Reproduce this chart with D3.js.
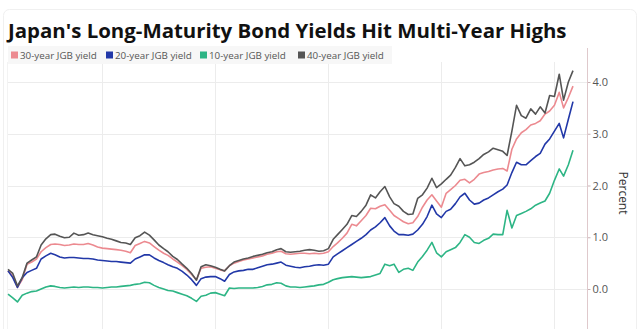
<!DOCTYPE html>
<html>
<head>
<meta charset="utf-8">
<script src="https://cdn.jsdelivr.net/npm/d3@7"></script>
<style>
  body { margin: 0; background: #fff; }
  svg { display: block; font-family: "Open Sans", sans-serif; }
</style>
</head>
<body>
<div id="chart"></div>
<script>
const width = 640, height = 329;

// monthly observations, May 2016 .. May 2026
const months = d3.timeMonth.range(new Date(2016, 4, 1), new Date(2026, 5, 1));

const yield30 = [
  .35,.25,.03,.18,.48,.52,.58,.72,.80,.86,
  .87,.86,.84,.85,.87,.86,.86,.88,.85,.81,
  .79,.78,.77,.76,.75,.73,.70,.84,.88,.92,
  .89,.82,.75,.69,.65,.58,.52,.45,.38,.28,
  .18,.40,.42,.43,.40,.37,.35,.45,.50,.53,
  .56,.58,.60,.62,.64,.67,.69,.72,.73,.68,
  .67,.68,.69,.69,.68,.69,.68,.69,.72,.82,
  .89,.98,1.08,1.25,1.22,1.32,1.42,1.56,1.55,1.60,
  1.63,1.52,1.42,1.36,1.30,1.26,1.28,1.40,1.58,1.72,
  1.82,1.70,1.58,1.85,1.92,2.00,2.10,2.12,2.05,2.12,
  2.22,2.25,2.27,2.30,2.32,2.33,2.28,2.70,2.90,3.02,
  3.08,3.17,3.20,3.25,3.38,3.44,3.55,3.80,3.50,3.70,
  3.92
];

const yield20 = [
  .35,.22,.03,.22,.32,.36,.40,.58,.64,.69,
  .66,.62,.60,.61,.61,.60,.59,.59,.58,.56,
  .55,.54,.53,.53,.52,.51,.50,.58,.62,.66,
  .66,.60,.55,.51,.47,.43,.40,.34,.27,.18,
  .07,.20,.23,.24,.24,.20,.15,.28,.33,.35,
  .36,.38,.38,.41,.44,.47,.48,.50,.52,.46,
  .44,.42,.41,.43,.44,.46,.47,.46,.48,.62,
  .68,.74,.80,.86,.92,.98,1.05,1.14,1.20,1.28,
  1.38,1.22,1.12,1.05,1.05,1.04,1.06,1.14,1.25,1.40,
  1.62,1.45,1.38,1.50,1.54,1.65,1.78,1.85,1.72,1.64,
  1.66,1.72,1.76,1.82,1.88,1.93,2.01,2.25,2.45,2.40,
  2.40,2.48,2.56,2.62,2.80,2.90,3.05,3.20,2.92,3.28,
  3.62
];

const yield10 = [
  -.10,-.17,-.25,-.12,-.08,-.05,-.04,.00,.04,.06,
  .05,.03,.02,.03,.04,.03,.04,.04,.03,.03,
  .02,.03,.04,.04,.05,.06,.07,.09,.10,.13,
  .12,.07,.03,.00,-.03,-.04,-.07,-.10,-.13,-.18,
  -.24,-.14,-.12,-.08,-.07,-.10,-.13,.02,.01,.02,
  .02,.02,.02,.03,.05,.08,.09,.12,.11,.06,
  .04,.04,.03,.04,.05,.06,.08,.09,.13,.18,
  .20,.22,.23,.24,.23,.22,.23,.24,.27,.30,
  .48,.45,.48,.32,.38,.40,.36,.52,.63,.75,
  .90,.70,.62,.72,.76,.80,.90,1.05,1.00,.90,
  .88,.94,.98,1.06,1.05,1.05,1.52,1.18,1.42,1.46,
  1.50,1.55,1.62,1.66,1.70,1.85,2.10,2.32,2.18,2.40,
  2.68
];

const yield40 = [
  .38,.30,.06,.22,.50,.56,.62,.85,.97,1.05,
  1.06,1.02,.99,1.00,1.08,1.04,1.05,1.08,1.05,1.03,
  1.01,.98,.96,.93,.90,.89,.86,.99,1.03,1.10,
  1.04,.95,.85,.78,.72,.63,.57,.48,.40,.30,
  .17,.43,.47,.45,.42,.38,.35,.45,.52,.55,
  .58,.60,.63,.65,.67,.70,.72,.76,.78,.72,
  .71,.72,.73,.75,.76,.75,.73,.74,.78,.96,
  1.05,1.15,1.25,1.42,1.40,1.50,1.62,1.82,1.76,1.88,
  1.98,1.78,1.65,1.60,1.50,1.44,1.45,1.75,1.82,1.95,
  2.14,1.96,2.03,2.12,2.20,2.35,2.52,2.38,2.40,2.45,
  2.52,2.60,2.65,2.72,2.69,2.66,2.58,3.05,3.55,3.35,
  3.30,3.48,3.38,3.52,3.40,3.74,3.72,4.15,3.65,4.00,
  4.22
];

const seriesNames = ["30-year JGB yield", "20-year JGB yield", "10-year JGB yield", "40-year JGB yield"];
const seriesValues = [yield30, yield20, yield10, yield40];
const seriesColors = ["#ec8a90", "#2238a8", "#2db585", "#555555"];
const yTicks = [0, 1, 2, 3, 4];

const svg = d3.select("#chart").append("svg")
  .attr("width", width)
  .attr("height", height);

// faint card edge
svg.append("rect")
  .attr("x", 3.5).attr("y", 9.5)
  .attr("width", 633).attr("height", 340)
  .attr("rx", 6)
  .attr("fill", "none")
  .attr("stroke", "#f0f0f0");

const plotTop = 62, plotBottom = 335, axisX = 587;

const x = d3.scaleTime()
  .domain([months[0], months[months.length - 1]])
  .range([8, 573]);

const y = d3.scaleLinear()
  .domain([0, 4])
  .range([289, 82]);

// grid
svg.append("g").selectAll("line")
  .data(yTicks)
  .enter().append("line")
  .attr("x1", 8).attr("x2", axisX)
  .attr("y1", d => Math.round(y(d)) + 0.5)
  .attr("y2", d => Math.round(y(d)) + 0.5)
  .attr("stroke", "#ececec");

svg.append("g").selectAll("line")
  .data(x.ticks(d3.timeYear.every(2)).filter(d => d.getFullYear() % 2 === 0))
  .enter().append("line")
  .attr("x1", d => Math.round(x(d)) + 0.5)
  .attr("x2", d => Math.round(x(d)) + 0.5)
  .attr("y1", plotTop).attr("y2", plotBottom)
  .attr("stroke", "#ececec");

svg.append("line")
  .attr("x1", 7.5).attr("x2", 7.5)
  .attr("y1", plotTop).attr("y2", plotBottom)
  .attr("stroke", "#f3f3f3");

// lines
const line = d3.line()
  .x((d, i) => x(months[i]))
  .y(d => y(d));

svg.append("g").selectAll("path")
  .data(seriesValues)
  .enter().append("path")
  .attr("d", line)
  .attr("fill", "none")
  .attr("stroke", (d, i) => seriesColors[i])
  .attr("stroke-width", 1.6)
  .attr("stroke-linejoin", "round");

// right axis
const axis = svg.append("g")
  .attr("transform", `translate(${axisX + 0.5},0)`)
  .call(d3.axisRight(y).tickValues(yTicks).tickFormat(d3.format(".1f")).tickSize(3).tickPadding(2));

axis.select(".domain").remove();
axis.append("line")
  .attr("y1", 48).attr("y2", height)
  .attr("stroke", "#dfc9cc");
axis.selectAll(".tick line").attr("stroke", "#c9b3b6");
axis.selectAll(".tick text")
  .attr("fill", "#555")
  .style("font-family", "\"Open Sans\", sans-serif")
  .style("font-size", "11px");

svg.append("text")
  .attr("transform", "translate(619,193) rotate(90)")
  .attr("text-anchor", "middle")
  .attr("fill", "#333")
  .style("font-size", "12px")
  .text("Percent");

// title
const title = svg.append("text")
  .attr("x", 8).attr("y", 38)
  .attr("fill", "#111")
  .style("font-weight", 700)
  .style("font-size", "19px")
  .text("Japan's Long-Maturity Bond Yields Hit Multi-Year Highs");
const tw = title.node().getComputedTextLength();
title.style("font-size", (19 * 559 / tw) + "px");

// legend
svg.append("rect")
  .attr("x", 8).attr("y", 46)
  .attr("width", 384).attr("height", 18)
  .attr("fill", "#f7f7f7");

const legendX = [11, 106, 200, 298];
const legend = svg.append("g").selectAll("g")
  .data(seriesNames)
  .enter().append("g")
  .attr("transform", (d, i) => `translate(${legendX[i]},55)`);

legend.append("rect")
  .attr("x", 0).attr("y", -3.5)
  .attr("width", 7).attr("height", 7)
  .attr("fill", (d, i) => seriesColors[i]);

legend.append("text")
  .attr("x", 9).attr("y", 3.5)
  .attr("fill", "#555")
  .style("font-size", "9.8px")
  .text(d => d);
</script>
</body>
</html>
